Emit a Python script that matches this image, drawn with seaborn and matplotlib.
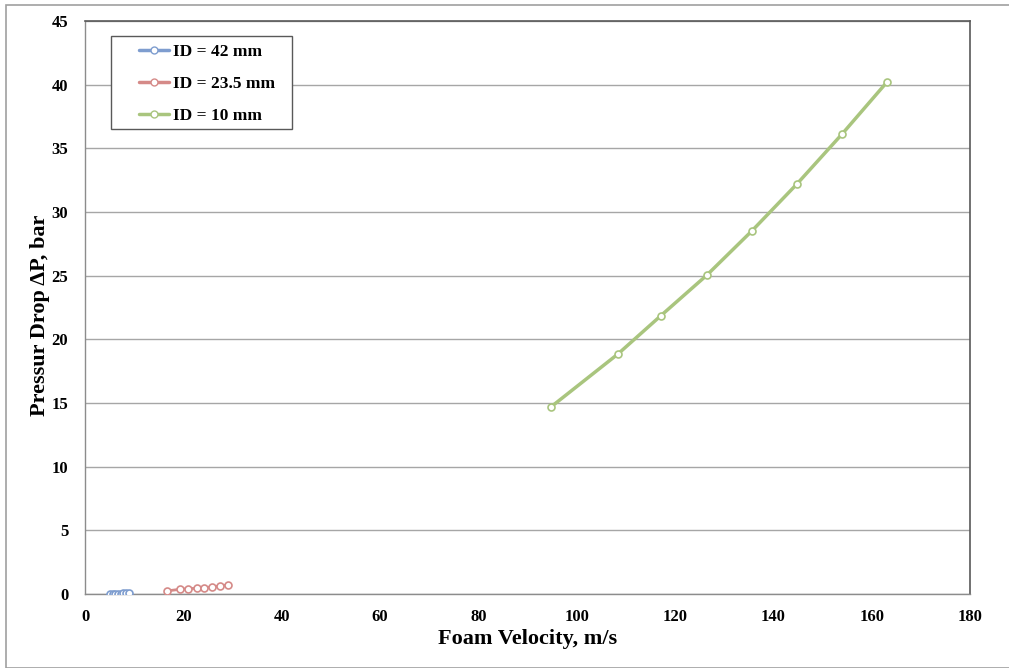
import matplotlib
matplotlib.use("Agg")
import matplotlib.pyplot as plt
from matplotlib.lines import Line2D
from matplotlib.patches import Rectangle
import seaborn as sns
import pandas as pd

# Data
labels = ["ID = 42 mm", "ID = 23.5 mm", "ID = 10 mm"]
x_42 = [5.1, 5.6, 6.2, 6.7, 7.3, 7.8, 8.3, 8.9]
y_42 = [0.02, 0.02, 0.03, 0.03, 0.03, 0.04, 0.04, 0.05]
x_235 = [16.7, 19.3, 21.0, 22.7, 24.3, 25.9, 27.5, 29.1]
y_235 = [0.24, 0.37, 0.42, 0.45, 0.50, 0.55, 0.63, 0.71]
x_10 = [94.8, 108.4, 117.1, 126.5, 135.6, 144.8, 154.0, 163.1]
y_10 = [14.7, 18.85, 21.85, 25.05, 28.5, 32.2, 36.13, 40.2]
colors = ["#7E9DCF", "#D58A88", "#A9C57E"]
xticks = list(range(0, 181, 20))
yticks = list(range(0, 46, 5))

sns.set_theme(style="white")
plt.rcParams["font.family"] = ["Liberation Serif", "DejaVu Serif"]
plt.rcParams["font.weight"] = "bold"
plt.rcParams["text.color"] = "black"
plt.rcParams["axes.labelcolor"] = "black"
plt.rcParams["xtick.labelcolor"] = "black"
plt.rcParams["ytick.labelcolor"] = "black"

W, H = 1009, 668
fig = plt.figure(figsize=(W / 100, H / 100), dpi=100)
L, R, T, B = 85, 970, 21, 594
ax = fig.add_axes([L / W, (H - B) / H, (R - L) / W, (B - T) / H])
aw, ah = R - L, B - T

series = [(x_42, y_42), (x_235, y_235), (x_10, y_10)]
lws = [2.0, 2.0, 2.5]
for (xs, ys), lab, c, lw in zip(series, labels, colors, lws):
    df = pd.DataFrame({"x": xs, "y": ys})
    sns.lineplot(data=df, x="x", y="y", ax=ax, color=c, lw=lw, marker="o",
                 markersize=5, markerfacecolor="white", markeredgecolor=c,
                 markeredgewidth=1.2, sort=False, legend=False, zorder=3)

ax.set_xlim(0, 180)
ax.set_ylim(0, 45)
ax.set_xticks(xticks)
ax.set_yticks(yticks)
ax.yaxis.grid(True, color="#A6A6A6", lw=1)
ax.xaxis.grid(False)
ax.set_axisbelow(True)

for side in ["left", "bottom"]:
    ax.spines[side].set_color("#8C8C8C")
    ax.spines[side].set_linewidth(1)
for side in ["top", "right"]:
    ax.spines[side].set_color("#595959")
    ax.spines[side].set_linewidth(1.2)

ax.tick_params(axis="both", which="major", direction="out", length=6,
               width=1, color="#8C8C8C", labelsize=12, labelcolor="black")
ax.tick_params(axis="y", pad=6)
ax.tick_params(axis="x", pad=5)
for t in ax.get_xticklabels() + ax.get_yticklabels():
    t.set_fontweight("bold")

ax.set_xlabel("Foam Velocity, m/s", fontsize=16, fontweight="bold", labelpad=3,
              color="black")
ax.set_ylabel("Pressur Drop ΔP, bar", fontsize=16, fontweight="bold", color="black")
ax.yaxis.set_label_coords((50 - L) / aw, (B - 315) / ah)

# legend box
ax.add_patch(Rectangle(((111 - L) / aw, (B - 129) / ah), 181 / aw, 93 / ah,
                       transform=ax.transAxes, fill=True, facecolor="white",
                       edgecolor="#595959", lw=1, zorder=4))
handles = [Line2D([0], [0], color=c, lw=2.5, marker="o", markersize=5,
                  markerfacecolor="white", markeredgecolor=c) for c in colors]
leg = ax.legend(handles, labels, loc="upper left",
                bbox_to_anchor=((139 - L) / aw, 1 - (43.5 - T) / ah),
                frameon=False, prop={"weight": "bold", "size": 12.5},
                handlelength=1.7, labelspacing=0.93, borderpad=0,
                handletextpad=0.25, borderaxespad=0, labelcolor="black")
leg.set_zorder(5)

# outer chart border
fig.patches.append(Rectangle((6 / W, 0), 1.1, (H - 5) / H,
                             transform=fig.transFigure, fill=False,
                             edgecolor="#A0A0A0", lw=1.2))

fig.savefig("out.png", dpi=100)
